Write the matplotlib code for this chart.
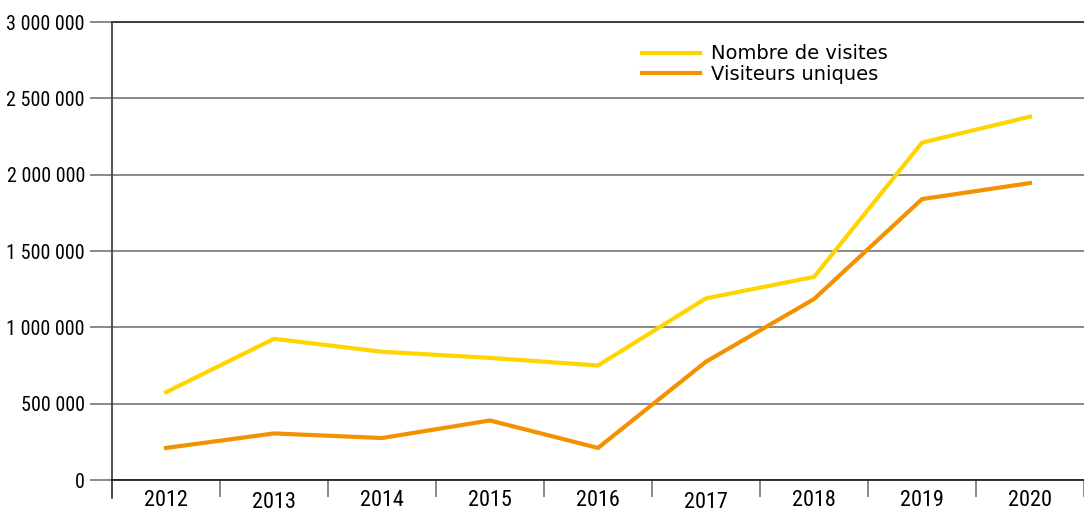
import matplotlib
matplotlib.use("Agg")
import matplotlib.pyplot as plt
import matplotlib.transforms as mtransforms
from matplotlib.ticker import FuncFormatter, FixedLocator

# Data
years = ["2012", "2013", "2014", "2015", "2016", "2017", "2018", "2019", "2020"]
visites = [575000, 925000, 840000, 800000, 750000, 1190000, 1330000, 2210000, 2380000]
visiteurs = [210000, 305000, 275000, 390000, 210000, 775000, 1185000, 1840000, 1945000]

yellow = "#FFD500"
orange = "#F29200"
grid_col = "#808080"
cond = ["Roboto Condensed", "Archivo Narrow", "DejaVu Sans"]

fig = plt.figure(figsize=(10.84, 5.11), dpi=100)
ax = fig.add_axes([112 / 1084, 1 - 480 / 511, 1 - 112 / 1084, 458 / 511])

x = list(range(len(years)))
ax.plot(x, visites, color=yellow, lw=3, label="Nombre de visites")
ax.plot(x, visiteurs, color=orange, lw=3, label="Visiteurs uniques")

ax.set_xlim(-0.5, len(years) - 0.5)
ax.set_ylim(0, 3000000)

# y axis: gridlines, ticks reaching left of the spine
ax.set_yticks(list(range(0, 3000001, 500000)))
ax.yaxis.set_major_formatter(FuncFormatter(lambda v, p: f"{int(v):,}".replace(",", " ")))
ax.grid(axis="y", color=grid_col, lw=1.3)
ax.set_axisbelow(True)
ax.tick_params(axis="y", length=16, width=1.3, color=grid_col, pad=3.5, labelsize=14.5)
for lab in ax.get_yticklabels():
    lab.set_family(cond)

# x axis: labels centred, ticks on category boundaries
ax.set_xticks(x)
ax.set_xticklabels(years, family=cond, fontsize=16)
ax.xaxis.set_minor_locator(FixedLocator([i - 0.5 for i in range(len(years) + 1)]))
ax.tick_params(axis="x", which="major", length=0, pad=7)
ax.tick_params(axis="x", which="minor", length=12.5, width=1.3, color=grid_col)

# some year labels sit a little lower
for i, lab in enumerate(ax.get_xticklabels()):
    if years[i] in ("2013", "2017"):
        lab.set_transform(lab.get_transform() + mtransforms.ScaledTranslation(0, -2 / 100, fig.dpi_scale_trans))

for s in ["top", "right"]:
    ax.spines[s].set_visible(False)
ax.spines["left"].set_color("#444444")
ax.spines["left"].set_linewidth(1.3)
ax.spines["left"].set_bounds(-120000, 3000000)
ax.spines["bottom"].set_color("#222222")
ax.spines["bottom"].set_linewidth(1.3)
ax.axhline(3000000, color="#333333", lw=1.3, clip_on=False)

ax.legend(loc="upper left", bbox_to_anchor=(0.545, 0.951), frameon=False,
          borderpad=0, borderaxespad=0, handlelength=3.0, handletextpad=0.55,
          labelspacing=0.08, prop={"family": "DejaVu Sans", "size": 14})

fig.savefig("out.png", dpi=100)
